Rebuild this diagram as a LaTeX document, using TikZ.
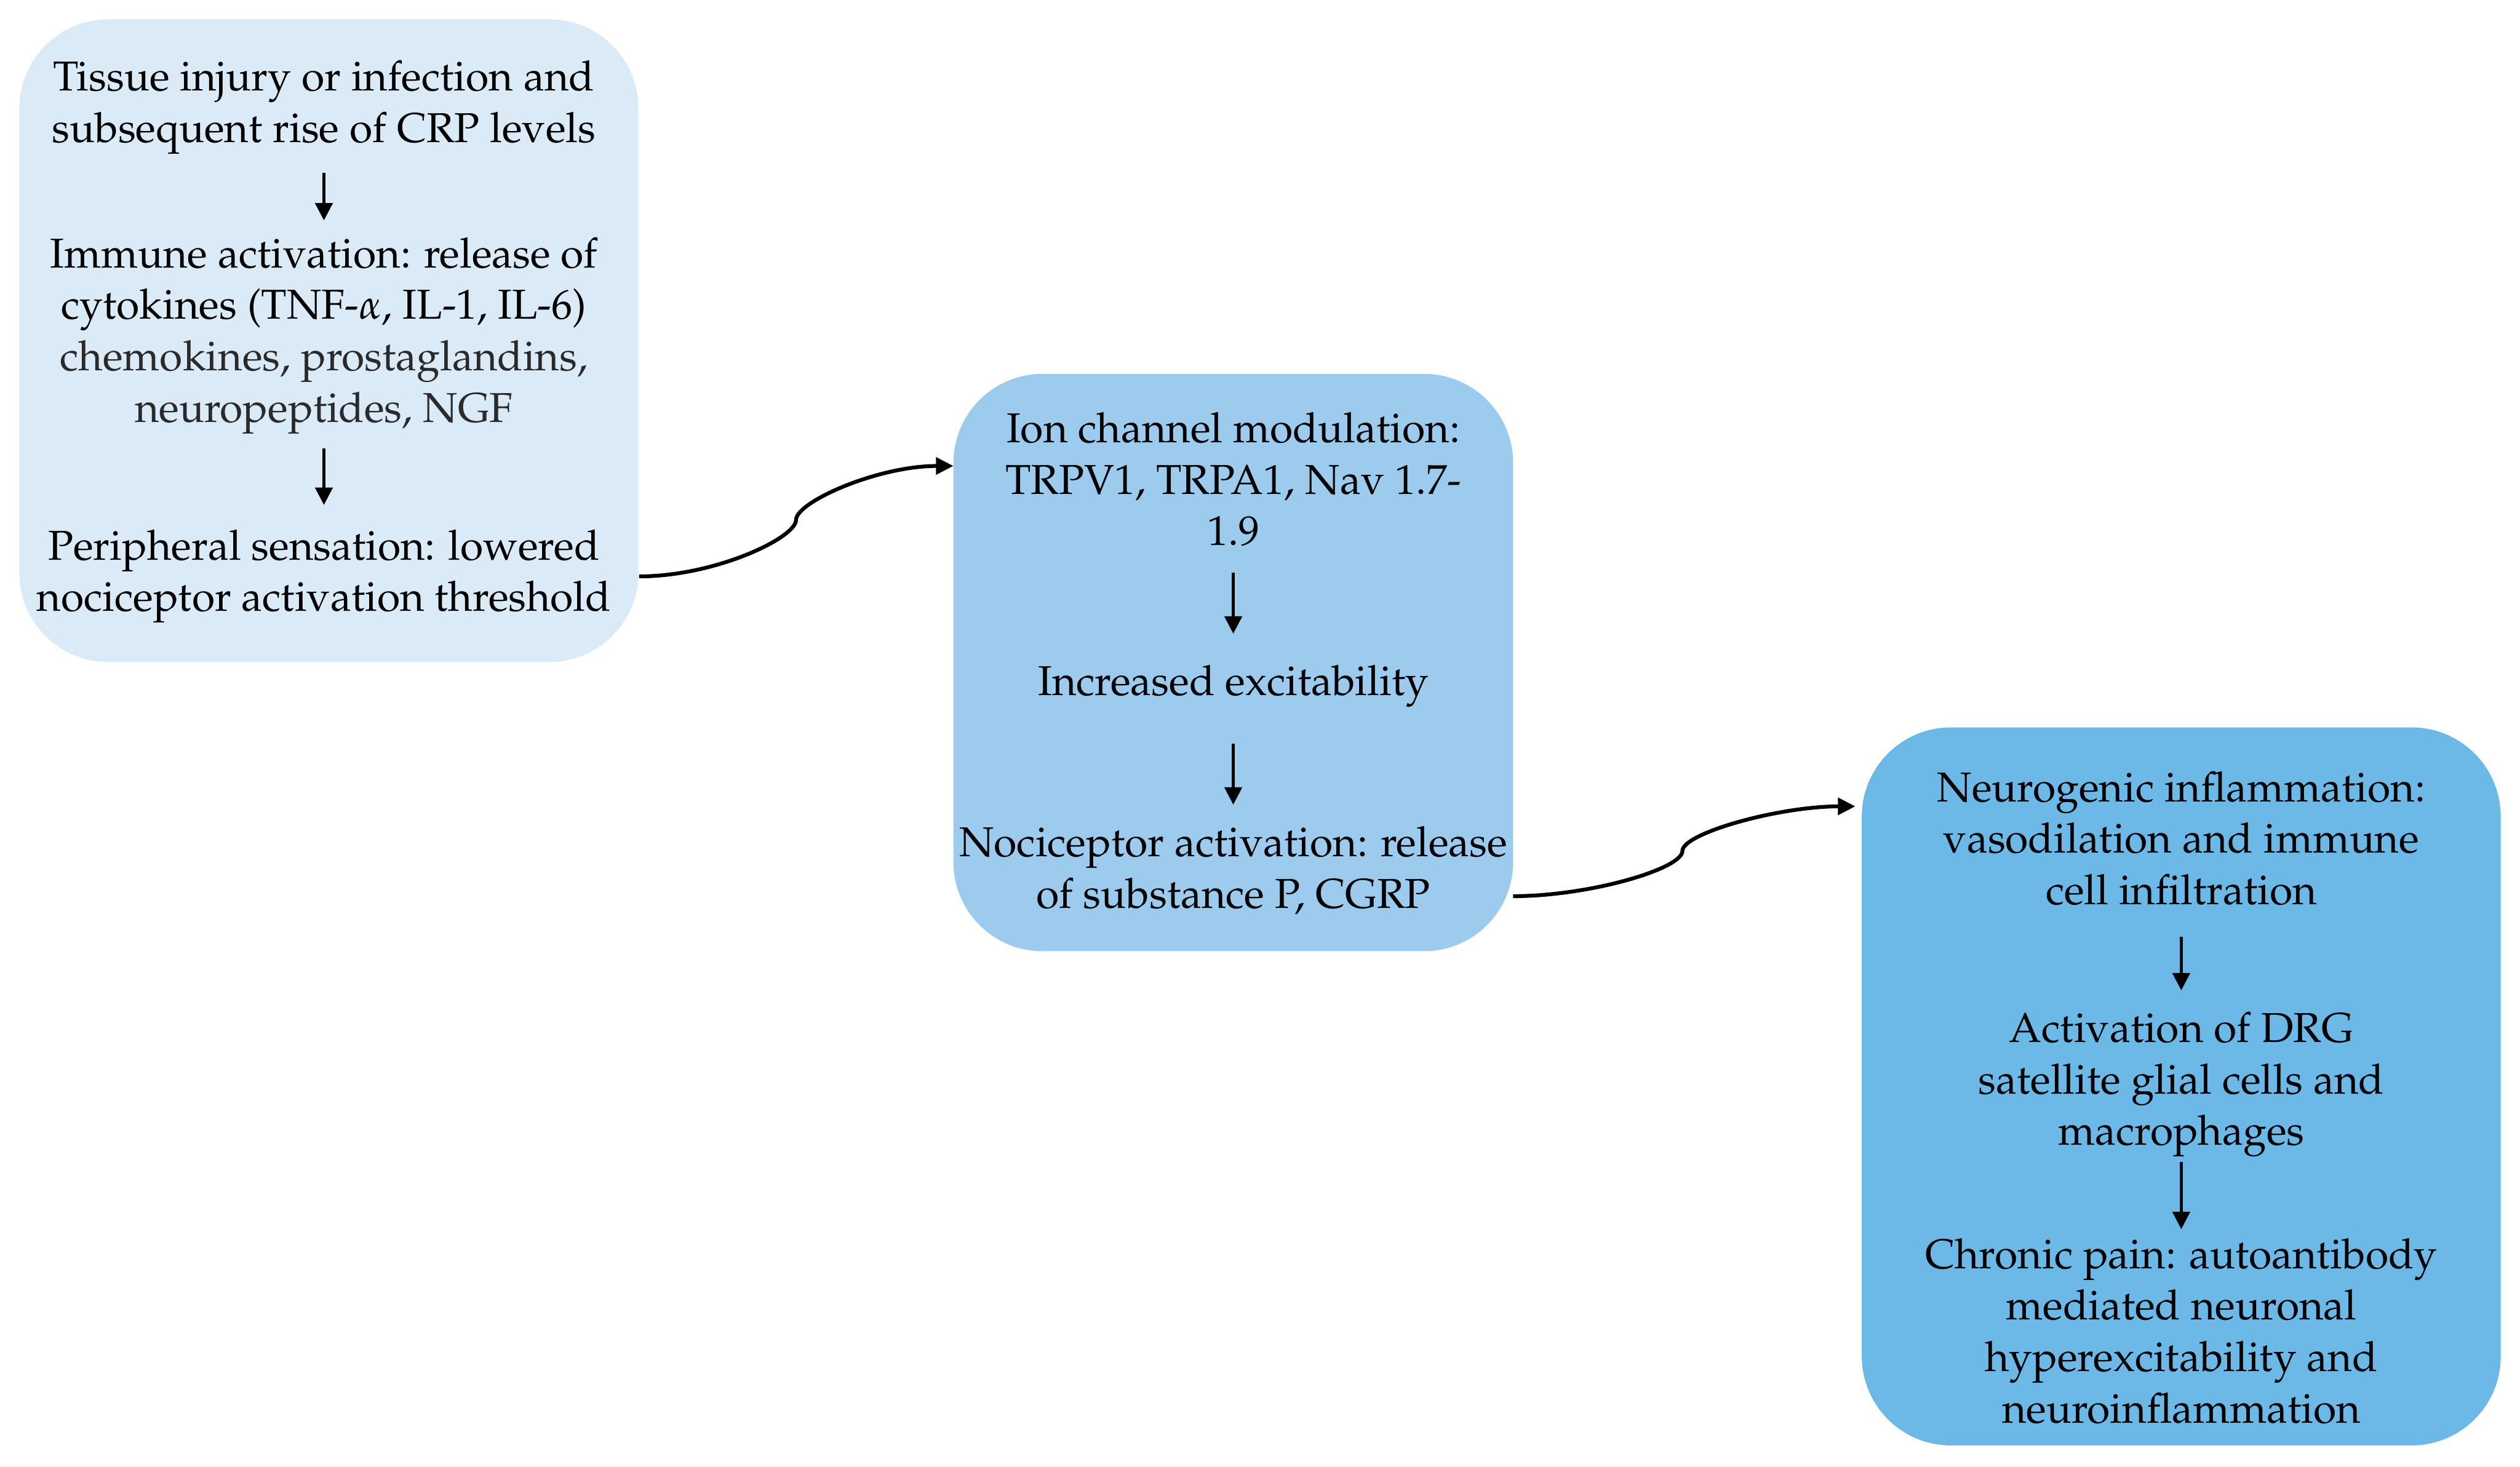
\documentclass[tikz,border=0pt]{standalone}
\usepackage[T1]{fontenc}
\usepackage{mathpazo}
\usepackage{xcolor}
\usepackage{tikz}
\usetikzlibrary{arrows.meta,positioning}
\definecolor{paleBlue}{HTML}{DAEBF7}
\definecolor{midBlue}{HTML}{9CCBEE}
\definecolor{deepBlue}{HTML}{6CB9E8}
\definecolor{softInk}{HTML}{2A2A2A}

\begin{document}
\begin{tikzpicture}[
  stage/.style={rounded corners=0.9cm, inner sep=0pt},
  stagetext/.style={align=center, inner sep=0pt,
    font=\fontsize{12}{14.8}\selectfont},
  down/.style={-{Triangle[length=5pt,width=5pt]}, line width=0.8pt},
  link/.style={-{Triangle[length=5pt,width=4.8pt]}, line width=1.1pt},
]
\useasboundingbox (0,0) rectangle (25.44,-14.81);

% === Stage 1: peripheral ===
\node[stage, fill=paleBlue, minimum width=6.25cm, minimum height=6.49cm] (box1) at (3.32,-3.44) {};
\node[stagetext] (tissue) at (3.27,-1.085) {Tissue injury or infection and\\subsequent rise of CRP levels};
\node[stagetext] (immune) at (3.27,-3.39) {Immune activation: release of\\cytokines (TNF-$\alpha$, IL-1, IL-6)\\{\color{softInk}chemokines, prostaglandins,}\\{\color{softInk}neuropeptides, NGF}};
\node[stagetext] (periph) at (3.27,-5.82) {Peripheral sensation: lowered\\nociceptor activation threshold};
\draw[down, shorten <=5.2pt, shorten >=4.7pt] (tissue) -- (immune);
\draw[down, shorten <=4pt, shorten >=6.9pt] (immune) -- (periph);

% === Stage 2: nociceptor ===
\node[stage, fill=midBlue, minimum width=5.65cm, minimum height=5.83cm] (box2) at (12.45,-6.69) {};
\node[stagetext] (ionch) at (12.45,-4.84) {Ion channel modulation:\\TRPV1, TRPA1, Nav 1.7-\\1.9};
\node[stagetext] (excit) at (12.45,-6.93) {Increased excitability};
\node[stagetext] (nocic) at (12.45,-8.79) {Nociceptor activation: release\\of substance P, CGRP};
\draw[down, shorten <=7.3pt, shorten >=8.9pt] (ionch) -- (excit);
\draw[down, shorten <=10.3pt, shorten >=6pt] (excit) -- (nocic);

% === Stage 3: central ===
\node[stage, fill=deepBlue, minimum width=6.45cm, minimum height=7.25cm] (box3) at (22.02,-10.97) {};
\node[stagetext] (neuro) at (22.02,-8.465) {Neurogenic inflammation:\\vasodilation and immune\\cell infiltration};
\node[stagetext] (drg) at (22.02,-10.95) {Activation of DRG\\satellite glial cells and\\macrophages};
\node[stagetext] (chronic) at (22.02,-13.44) {Chronic pain: autoantibody\\mediated neuronal\\hyperexcitability and\\neuroinflammation};
\draw[down, shorten <=8.8pt, shorten >=6pt] (neuro) -- (drg);
\draw[down, shorten <=1.2pt, shorten >=2.4pt] (drg) -- (chronic);

% === Links between stages ===
\coordinate (k1) at (8.036,-5.250);
\coordinate (in1) at (9.625,-4.705);
\draw[link] (periph -| box1.east) .. controls +(0.77,0) and +(0,-0.18) .. (k1)
  .. controls +(0,0.18) and +(-0.77,0) .. (in1);

\coordinate (out2) at (15.275,-9.049);
\coordinate (k2) at (16.984,-8.593);
\coordinate (in2) at (18.73,-8.142);
\draw[link] (out2) .. controls +(0.77,0) and +(0,-0.18) .. (k2)
  .. controls +(0,0.18) and +(-0.77,0) .. (in2);

\end{tikzpicture}
\end{document}
